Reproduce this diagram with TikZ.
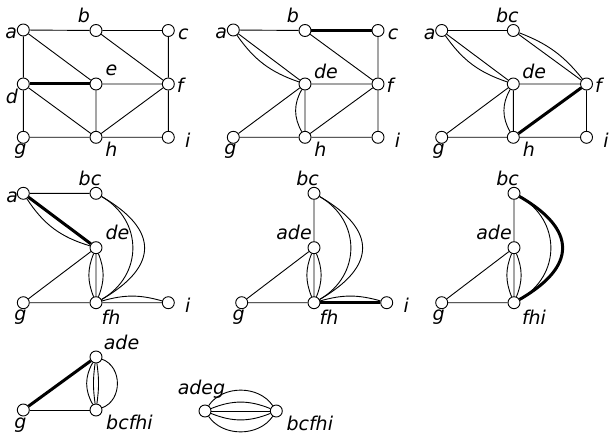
\documentclass[tikz,border=0pt]{standalone}
\usepackage{fontspec}
\setmainfont{DejaVu Sans}
\usetikzlibrary{calc}
\tikzset{
  v/.style={circle,draw,fill=white,minimum size=12pt,inner sep=0pt,line width=0.9pt},
  lab/.style={font=\fontsize{19}{22}\selectfont\itshape,inner sep=0pt},
  ed/.style={line width=0.9pt},
  hv/.style={line width=3pt},
}
\newcommand\V[6]{\node[v] (#1) at (#2,#3) {}; \node[lab] (#1-l) at ($(#1)+(#5,#6)$) {#4};}
\begin{document}
\begin{tikzpicture}[x=1pt,y=-1pt]
\useasboundingbox (0,0) rectangle (610,433);
% ---------- panel 1
\V{Aa}{23.3}{30}{a}{-12}{3.5}
\V{Ab}{96}{30.5}{b}{-12}{-15.5}
\V{Ac}{168.3}{30.5}{c}{15}{3.5}
\V{Ad}{23.3}{84}{d}{-11.5}{12.5}
\V{Ae}{96}{84}{e}{15.5}{-14}
\V{Af}{168.3}{84}{f}{12}{1}
\V{Ag}{23.3}{137.3}{g}{-3}{14}
\V{Ah}{96}{137.3}{h}{15.5}{12}
\V{Ai}{168.3}{137.3}{i}{19.5}{3}
\draw[ed] (Aa)--(Ab) (Ab)--(Ac) (Aa)--(Ad) (Aa)--(Ae) (Ab)--(Af) (Ac)--(Af)
  (Ae)--(Af) (Ad)--(Ag) (Ad)--(Ah) (Ae)--(Ah) (Af)--(Ah) (Af)--(Ai) (Ag)--(Ah) (Ah)--(Ai);
\draw[hv] (Ad)--(Ae);
% ---------- panel 2
\V{Ba}{233.3}{30}{a}{-12}{3.5}
\V{Bb}{305}{30.5}{b}{-12}{-15.5}
\V{Bc}{378}{30.5}{c}{15}{3.5}
\V{Bde}{305}{84}{de}{21}{-13}
\V{Bf}{378}{84}{f}{12}{1}
\V{Bg}{233.3}{137.3}{g}{-3}{14}
\V{Bh}{305}{137.3}{h}{15.5}{12}
\V{Bi}{378}{137.3}{i}{19.5}{3}
\draw[ed] (Ba)--(Bb) (Ba)--(Bde) (Bb)--(Bf) (Bc)--(Bf) (Bde)--(Bf) (Bg)--(Bde)
  (Bde)--(Bh) (Bf)--(Bh) (Bf)--(Bi) (Bg)--(Bh) (Bh)--(Bi);
\draw[ed] (Ba) to[bend right=18] (Bde);
\draw[ed] (Bde) to[bend right=30] (Bh);
\draw[hv] (Bb)--(Bc);
% ---------- panel 3
\V{Ca}{441.7}{30.5}{a}{-12}{3.5}
\V{Cbc}{513.3}{30.5}{bc}{-6}{-15.5}
\V{Cde}{513.3}{84}{de}{21}{-13}
\V{Cf}{586.5}{84}{f}{12}{1}
\V{Cg}{441.7}{137.3}{g}{-3}{14}
\V{Ch}{513.3}{137.3}{h}{15.5}{12}
\V{Ci}{586.5}{137.3}{i}{19.5}{3}
\draw[ed] (Ca)--(Cbc) (Ca)--(Cde) (Cbc)--(Cf) (Cde)--(Cf) (Cg)--(Cde) (Cde)--(Ch)
  (Cf)--(Ci) (Cg)--(Ch) (Ch)--(Ci);
\draw[ed] (Ca) to[bend right=18] (Cde);
\draw[ed] (Cbc) to[bend left=15] (Cf);
\draw[ed] (Cde) to[bend right=30] (Ch);
\draw[hv] (Ch)--(Cf);
% ---------- panel 4
\V{Da}{23.3}{193.3}{a}{-11}{4.5}
\V{Dbc}{96}{193.3}{bc}{-6}{-14.5}
\V{Dde}{96}{247.7}{de}{21.5}{-15}
\V{Dg}{23.3}{302.7}{g}{-3}{14}
\V{Dfh}{96}{302.7}{fh}{15}{15}
\V{Di}{168.3}{302.7}{i}{19.5}{3}
\draw[ed] (Da)--(Dbc) (Dde)--(Dfh) (Dg)--(Dde) (Dg)--(Dfh) (Dfh)--(Di);
\draw[ed] (Da) to[bend right=20] (Dde);
\draw[ed] (Dbc) to[bend left=60,looseness=1.2] (Dfh);
\draw[ed] (Dbc) to[bend left=60,looseness=1.65] (Dfh);
\draw[ed] (Dde) to[bend left=22] (Dfh);
\draw[ed] (Dde) to[bend right=22] (Dfh);
\draw[ed] (Dfh) to[bend left=16] (Di);
\draw[hv] (Da)--(Dde);
% ---------- panel 5
\V{Ebc}{314}{193.3}{bc}{-6.5}{-14.5}
\V{Eade}{314}{247.7}{ade}{-20}{-15}
\V{Eg}{241.7}{302.7}{g}{-3}{14}
\V{Efh}{314}{302.7}{fh}{15}{15}
\V{Ei}{386.7}{302.7}{i}{19.5}{3}
\draw[ed] (Ebc)--(Eade) (Eg)--(Eade) (Eg)--(Efh) (Eade)--(Efh);
\draw[ed] (Eade) to[bend left=22] (Efh);
\draw[ed] (Eade) to[bend right=22] (Efh);
\draw[ed] (Ebc) to[bend left=60,looseness=1.2] (Efh);
\draw[ed] (Ebc) to[bend left=60,looseness=1.65] (Efh);
\draw[ed] (Efh) to[bend left=16] (Ei);
\draw[hv] (Efh)--(Ei);
% ---------- panel 6
\V{Fbc}{514}{193.3}{bc}{-6.5}{-14.5}
\V{Fade}{514}{247.7}{ade}{-20}{-15}
\V{Fg}{441.7}{302.7}{g}{-3}{14}
\V{Ffhi}{514}{302.7}{fhi}{20}{15}
\draw[ed] (Fbc)--(Fade) (Fg)--(Fade) (Fg)--(Ffhi) (Fade)--(Ffhi);
\draw[ed] (Fade) to[bend left=22] (Ffhi);
\draw[ed] (Fade) to[bend right=22] (Ffhi);
\draw[ed] (Fbc) to[bend left=60,looseness=1.2] (Ffhi);
\draw[hv] (Fbc) to[bend left=60,looseness=1.65] (Ffhi);
% ---------- panel 7
\V{Gade}{96}{357}{ade}{25.5}{-14.5}
\V{Gg}{23.3}{410}{g}{-3}{15}
\V{Gb}{96}{410}{bcfhi}{33.5}{12.5}
\draw[ed] (Gg)--(Gb);
\draw[ed] (Gade) to[bend right=30] (Gb);
\draw[ed] (Gade) to[bend right=8] (Gb);
\draw[ed] (Gade) to[bend left=8] (Gb);
\draw[ed] (Gade) to[bend left=70,looseness=1.15] (Gb);
\draw[hv] (Gg)--(Gade);
% ---------- panel 8
\V{Hadeg}{205}{411}{adeg}{-3.5}{-21.5}
\V{Hb}{276.3}{411}{bcfhi}{33.5}{12.5}
\draw[ed] (Hadeg)--(Hb);
\draw[ed] (Hadeg) to[bend left=22] (Hb);
\draw[ed] (Hadeg) to[bend right=22] (Hb);
\draw[ed] (Hadeg) to[bend left=56] (Hb);
\draw[ed] (Hadeg) to[bend right=56] (Hb);
\end{tikzpicture}
\end{document}
